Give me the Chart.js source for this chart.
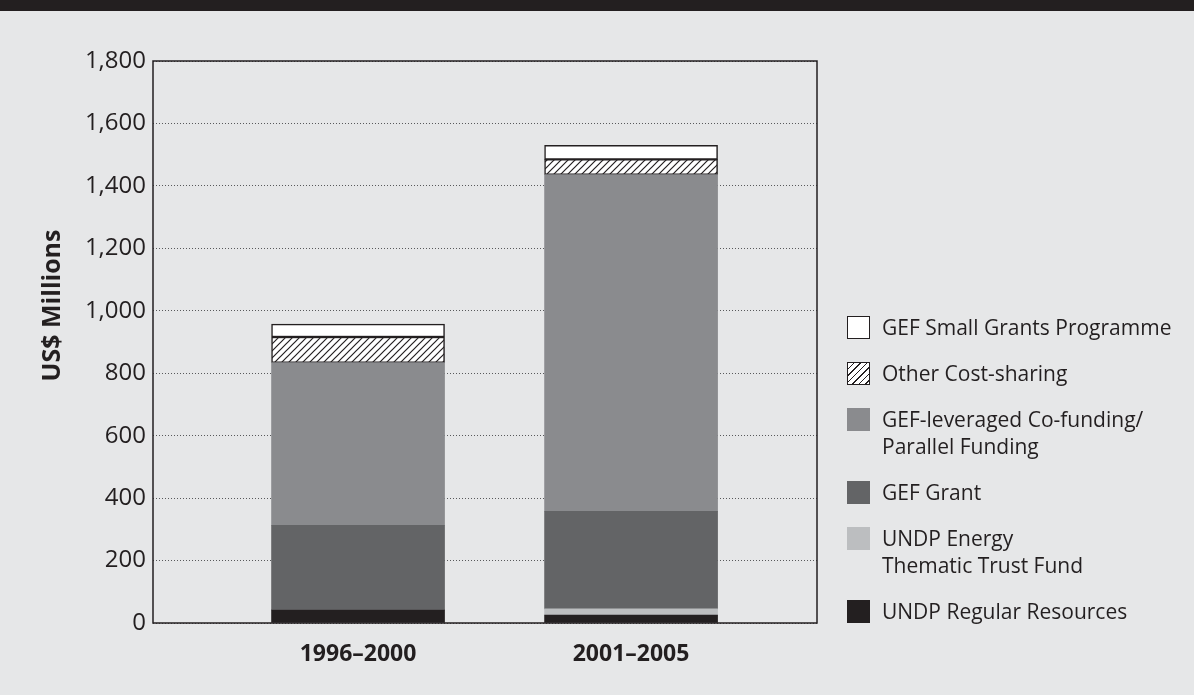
<!DOCTYPE html>
<html>
<head>
<meta charset="utf-8">
<title>UNDP energy funding by source</title>
<script src="https://cdn.jsdelivr.net/npm/chart.js@4.4.1/dist/chart.umd.min.js"></script>
<style>
  html, body { margin: 0; padding: 0; }
  body { width: 1194px; height: 695px; background: #e6e7e8; position: relative; overflow: hidden; font-family: "Open Sans", sans-serif; color: #231f20; }
  #topband { position: absolute; left: 0; top: 0; width: 1194px; height: 11px; background: #231f20; z-index: 2; }
  #chart { position: absolute; left: 0; top: 0; }
  #legend { position: absolute; left: 847px; top: 316px; }
  .item { display: flex; align-items: flex-start; margin-bottom: 21px; }
  .swatch { width: 23px; height: 23px; box-sizing: border-box; flex: none; }
  .label { margin-left: 12px; margin-top: -2px; font-size: 21px; line-height: 27px; white-space: pre-line; }
</style>
</head>
<body>
<div id="topband"></div>
<canvas id="chart" width="1194" height="695"></canvas>
<div id="legend"></div>
<script>
// ============================================
// Data (US$ millions)
// ============================================

const periods = ['1996–2000', '2001–2005'];

const regularResources = [42, 25];
const energyTrustFund = [0, 20];
const gefGrant = [271, 313];
const gefCoFunding = [521, 1078];
const otherCostSharing = [82, 49];
const smallGrants = [41, 45];

const yTicks = { min: 0, max: 1800, step: 200 };

const INK = '#231f20';
const FONT = '"Open Sans", sans-serif';

// ============================================
// Hatch pattern for "Other Cost-sharing"
// ============================================

function makeHatch() {
  const size = 7;
  const c = document.createElement('canvas');
  c.width = size;
  c.height = size;
  const g = c.getContext('2d');
  g.fillStyle = '#ffffff';
  g.fillRect(0, 0, size, size);
  g.strokeStyle = INK;
  g.lineWidth = 1.2;
  g.beginPath();
  g.moveTo(-1, size + 1); g.lineTo(size + 1, -1);
  g.moveTo(-1, 1); g.lineTo(1, -1);
  g.moveTo(size - 1, size + 1); g.lineTo(size + 1, size - 1);
  g.stroke();
  return document.getElementById('chart').getContext('2d').createPattern(c, 'repeat');
}

// bottom to top of the stack
const series = [
  { name: 'UNDP Regular Resources', values: regularResources, color: INK },
  { name: 'UNDP Energy\nThematic Trust Fund', values: energyTrustFund, color: '#bcbec0' },
  { name: 'GEF Grant', values: gefGrant, color: '#636466' },
  { name: 'GEF-leveraged Co-funding/\nParallel Funding', values: gefCoFunding, color: '#8a8b8e' },
  { name: 'Other Cost-sharing', values: otherCostSharing, color: 'hatch', outlined: true },
  { name: 'GEF Small Grants Programme', values: smallGrants, color: '#ffffff', outlined: true }
];

// ============================================
// Plugins
// ============================================

const framePlugin = {
  id: 'frame',
  afterDatasetsDraw(chart) {
    const { ctx, chartArea: a } = chart;
    ctx.save();
    ctx.strokeStyle = INK;
    ctx.lineWidth = 1.5;
    ctx.strokeRect(a.left, a.top, a.right - a.left, a.bottom - a.top);
    ctx.restore();
  }
};

const yTitlePlugin = {
  id: 'yTitle',
  afterDraw(chart) {
    const { ctx, chartArea: a } = chart;
    ctx.save();
    ctx.translate(53, a.top + (a.bottom - a.top) * 0.435);
    ctx.rotate(-Math.PI / 2);
    ctx.font = 'bold 25px ' + FONT;
    ctx.fillStyle = INK;
    ctx.textAlign = 'center';
    ctx.textBaseline = 'middle';
    ctx.fillText('US$ Millions', 0, 0);
    ctx.restore();
  }
};

// ============================================
// Chart
// ============================================

function buildChart() {
  const hatch = makeHatch();
  const datasets = series.map(s => ({
    label: s.name,
    data: s.values.map((v, i) => ({ x: i, y: v })),
    backgroundColor: s.color === 'hatch' ? hatch : s.color,
    borderColor: INK,
    borderWidth: s.outlined ? 1.5 : 0,
    borderSkipped: false,
    barThickness: 173
  }));

  new Chart(document.getElementById('chart'), {
    type: 'bar',
    data: { datasets },
    options: {
      responsive: false,
      animation: false,
      events: [],
      layout: { padding: { left: 0, right: 377, top: 61, bottom: 0 } },
      plugins: { legend: { display: false }, tooltip: { enabled: false } },
      scales: {
        x: {
          type: 'linear',
          stacked: true,
          offset: false,
          min: -0.751,
          max: 1.681,
          afterBuildTicks: scale => { scale.ticks = periods.map((p, i) => ({ value: i })); },
          afterFit: scale => { scale.height = 72; },
          grid: { display: false },
          border: { display: false },
          ticks: {
            callback: v => periods[v] || '',
            color: INK,
            padding: 10,
            font: { family: FONT, size: 23, weight: 'bold' }
          }
        },
        y: {
          stacked: true,
          min: yTicks.min,
          max: yTicks.max,
          afterFit: scale => { scale.width = 153; },
          grid: { color: '#58595b', lineWidth: 1, drawTicks: false },
          border: { display: false, dash: [1, 2] },
          ticks: {
            stepSize: yTicks.step,
            callback: v => v.toLocaleString('en-US'),
            color: INK,
            padding: 7,
            font: { family: FONT, size: 24 }
          }
        }
      }
    },
    plugins: [framePlugin, yTitlePlugin]
  });
}

// ============================================
// Legend (top of stack first)
// ============================================

function buildLegend() {
  const box = document.getElementById('legend');
  series.slice().reverse().forEach(s => {
    const item = document.createElement('div');
    item.className = 'item';
    const sw = document.createElement('div');
    sw.className = 'swatch';
    if (s.color === 'hatch') {
      sw.style.background = 'repeating-linear-gradient(135deg, #fff 0 3.6px, ' + INK + ' 3.6px 4.6px)';
    } else {
      sw.style.background = s.color;
    }
    if (s.outlined) sw.style.border = '1.5px solid ' + INK;
    const tx = document.createElement('div');
    tx.className = 'label';
    tx.textContent = s.name;
    item.appendChild(sw);
    item.appendChild(tx);
    box.appendChild(item);
  });
}

buildChart();
buildLegend();
</script>
</body>
</html>
